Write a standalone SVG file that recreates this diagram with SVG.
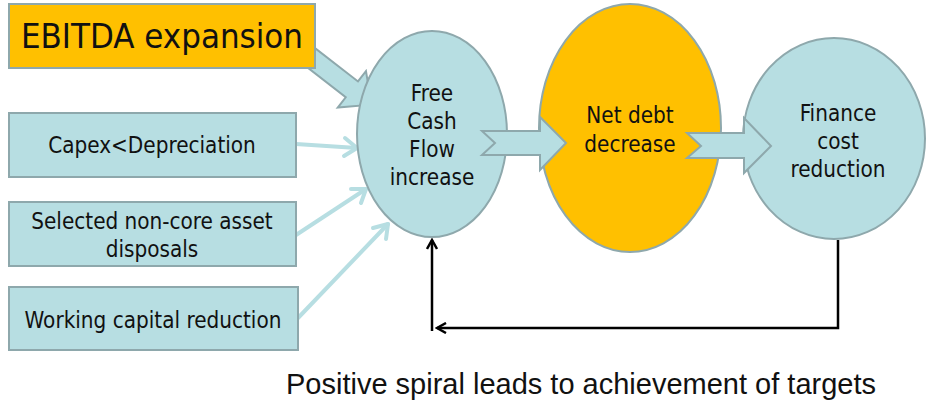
<svg xmlns="http://www.w3.org/2000/svg" width="926" height="404" viewBox="0 0 926 404">
<style>
.blue{fill:#B7DEE2;stroke:#8EA8AC;stroke-width:2}
.orange{fill:#FFC000;stroke:#8EA8AC;stroke-width:2}
.t{font-family:"DejaVu Sans Condensed","DejaVu Sans",sans-serif;font-size:22.3px;fill:#111;text-anchor:middle}
.thin{stroke:#B7DEE2;stroke-width:4;fill:none;stroke-linecap:round;stroke-linejoin:round}
.fb{stroke:#000;stroke-width:2.5;fill:none}
</style>
<defs>
<marker id="open" viewBox="0 0 12 12" refX="10" refY="6" markerWidth="12" markerHeight="12" markerUnits="userSpaceOnUse" orient="auto">
<path d="M1,1 L10,6 L1,11" fill="none" stroke="#000" stroke-width="2.5"/>
</marker>
</defs>
<g id="connectors">
<path id="ebitda-arrow" class="blue" d="M0,-10 L65,-10 L65,-23 L90,0 L65,23 L65,10 L0,10 Z" transform="translate(300.5,49.5) rotate(37.8)"/>
<g id="capex-arrow" class="thin"><path d="M296,144 L357,148"/><path d="M345,138 L357,148 L344,156"/></g>
<g id="selected-arrow" class="thin"><path d="M296,235 L366,189"/><path d="M351,189 L366,189 L361,203"/></g>
<g id="working-arrow" class="thin"><path d="M298,318 L388,224"/><path d="M373,228 L388,224 L386,239"/></g>
</g>
<g id="ebitda"><rect class="orange" x="9" y="4" width="306" height="64"/><text x="162" y="48" style="font-family:'DejaVu Sans Condensed','DejaVu Sans',sans-serif;font-size:34.5px;text-anchor:middle;fill:#111">EBITDA expansion</text></g>
<g id="capex"><rect class="blue" x="9" y="113" width="287" height="64"/><text class="t" x="152" y="153">Capex&lt;Depreciation</text></g>
<g id="selected"><rect class="blue" x="9" y="202" width="287" height="64"/><text class="t" x="152" y="229">Selected non-core asset</text><text class="t" x="152" y="257">disposals</text></g>
<g id="working"><rect class="blue" x="9" y="287" width="289" height="63"/><text class="t" x="153" y="328">Working capital reduction</text></g>
<g id="fcf"><ellipse class="blue" cx="432" cy="134" rx="75" ry="103"/><text class="t" x="432" y="101">Free</text><text class="t" x="432" y="129">Cash</text><text class="t" x="432" y="157">Flow</text><text class="t" x="432" y="185">increase</text></g>
<g id="netdebt"><ellipse class="orange" cx="630" cy="128" rx="91" ry="124"/><text class="t" x="630" y="123">Net debt</text><text class="t" x="630" y="152">decrease</text></g>
<g id="finance"><ellipse class="blue" cx="834" cy="138.5" rx="91" ry="100.5"/><text class="t" x="838" y="121">Finance</text><text class="t" x="838" y="149">cost</text><text class="t" x="838" y="177">reduction</text></g>
<g id="connectors-top">
<path class="blue" d="M482,131 L540,131 L540,117 L566,143 L540,170 L540,155 L482,155 L495,143 Z"/>
<path class="blue" d="M687,133 L744,133 L744,118 L771,146 L744,173 L744,158 L687,158 L701,146 Z"/>
<path class="fb" d="M838,240 V328 H437" marker-end="url(#open)"/>
<path class="fb" d="M432,331 V240" marker-end="url(#open)"/>
</g>
<text x="581" y="394" style="font-family:'Liberation Sans',Arial,sans-serif;font-size:29px;text-anchor:middle;fill:#111">Positive spiral leads to achievement of targets</text>
</svg>
